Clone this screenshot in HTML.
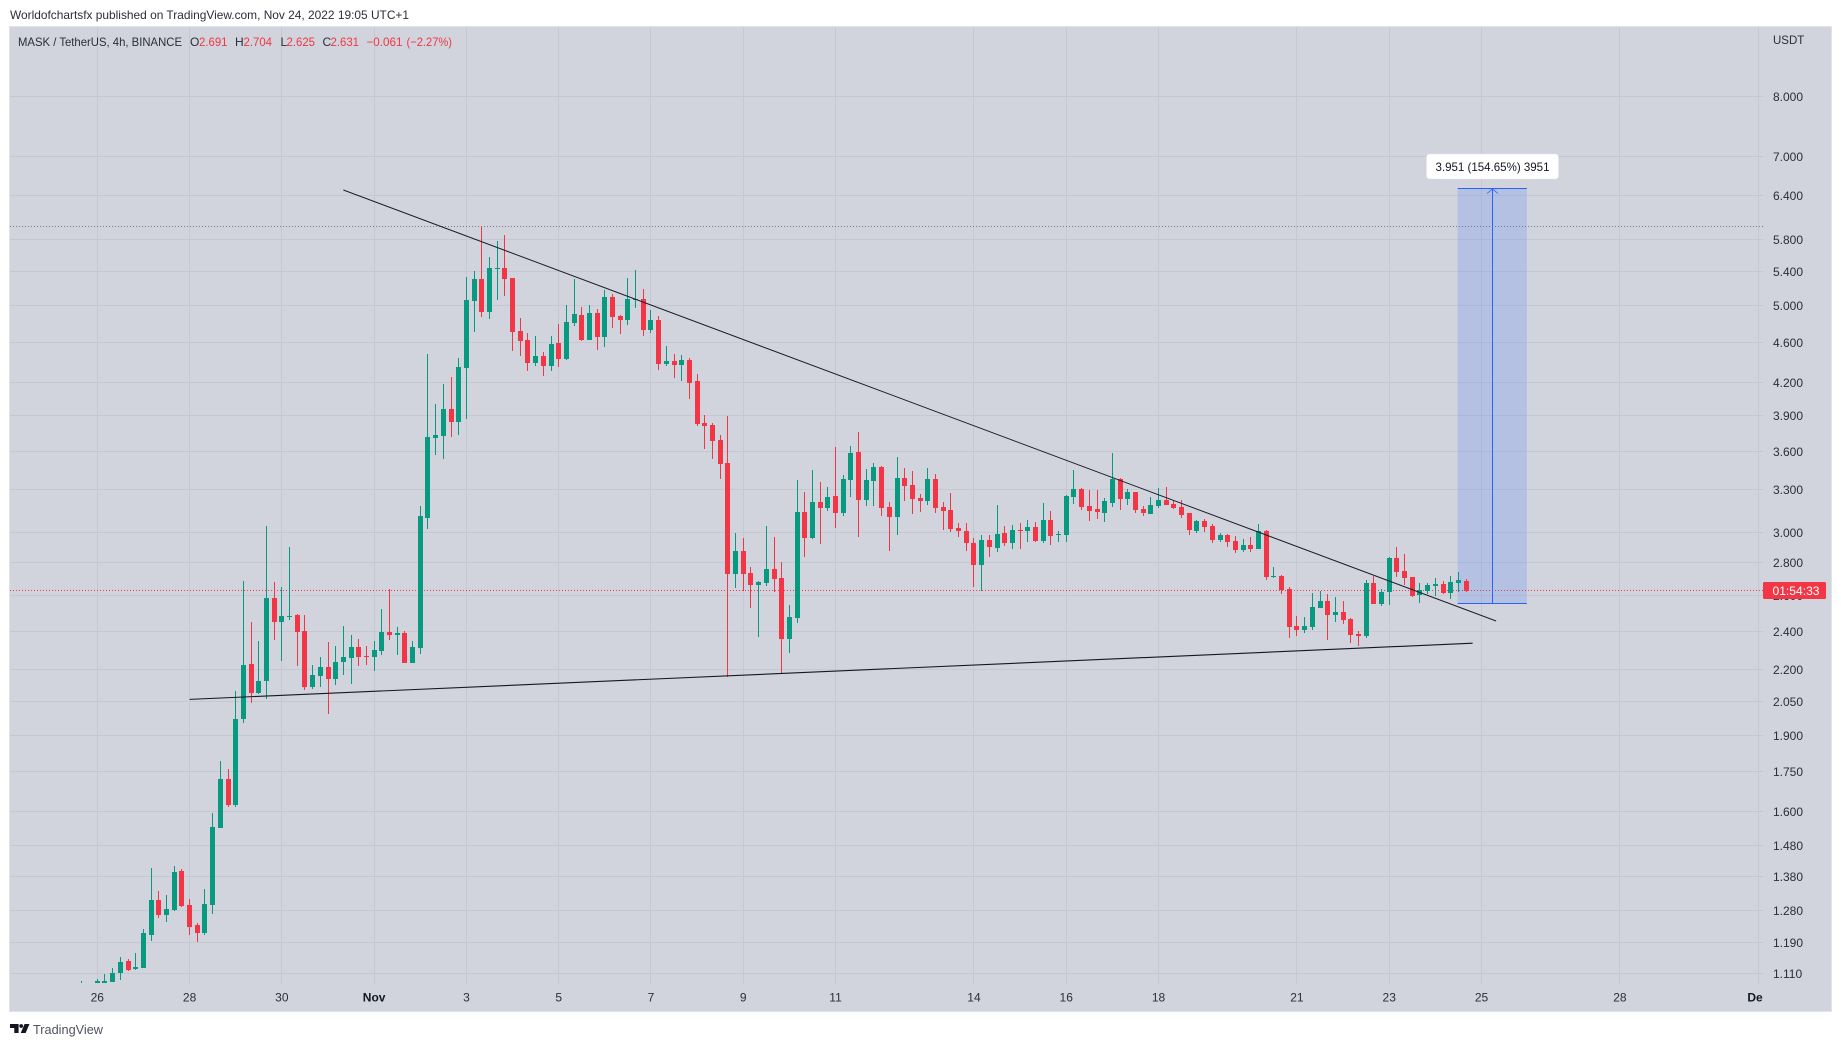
<!DOCTYPE html>
<html lang="en">
<head>
<meta charset="utf-8">
<title>MASK / TetherUS 4h chart</title>
<style>
html,body{margin:0;padding:0;background:#ffffff;}
body{width:1841px;height:1047px;overflow:hidden;position:relative;}
svg{position:absolute;left:0;top:0;display:block;}
text{font-family:"Liberation Sans",sans-serif;}
</style>
</head>
<body>
<svg id="chart" width="1841" height="1047" viewBox="0 0 1841 1047">
  <defs>
    <clipPath id="plot-clip"><rect x="10" y="27" width="1753" height="956"/></clipPath>
    <clipPath id="time-clip"><rect x="10" y="984" width="1753" height="28"/></clipPath>
  </defs>
  <text x="10" y="19" font-size="12" fill="#2a2e39" textLength="399" lengthAdjust="spacingAndGlyphs">Worldofchartsfx published on TradingView.com, Nov 24, 2022 19:05 UTC+1</text>
  <rect x="9.5" y="26.5" width="1822" height="985" fill="#d1d4dc" stroke="#e0e3eb" stroke-width="1"/>
  <g id="grid"></g>
  <g id="lines" clip-path="url(#plot-clip)"></g>
  <g id="range" clip-path="url(#plot-clip)"></g>
  <g id="candles" clip-path="url(#plot-clip)"></g>
  <g id="trends" clip-path="url(#plot-clip)"></g>
  <g id="range-label"></g>
  <g id="price-axis"></g>
  <g id="time-axis" clip-path="url(#time-clip)"></g>
  <g font-size="12">
    <text x="18" y="46" fill="#2a2e39" textLength="164" lengthAdjust="spacingAndGlyphs">MASK / TetherUS, 4h, BINANCE</text>
    <text x="190" y="46" fill="#2a2e39">O</text>
    <text x="199" y="46" fill="#f23645" textLength="28.5" lengthAdjust="spacingAndGlyphs">2.691</text>
    <text x="235" y="46" fill="#2a2e39">H</text>
    <text x="243.5" y="46" fill="#f23645" textLength="28.5" lengthAdjust="spacingAndGlyphs">2.704</text>
    <text x="280.5" y="46" fill="#2a2e39">L</text>
    <text x="286.5" y="46" fill="#f23645" textLength="28.5" lengthAdjust="spacingAndGlyphs">2.625</text>
    <text x="322.5" y="46" fill="#2a2e39">C</text>
    <text x="330.5" y="46" fill="#f23645" textLength="28.5" lengthAdjust="spacingAndGlyphs">2.631</text>
    <text x="366.5" y="46" fill="#f23645" textLength="36" lengthAdjust="spacingAndGlyphs">−0.061</text>
    <text x="406.5" y="46" fill="#f23645" textLength="45.5" lengthAdjust="spacingAndGlyphs">(−2.27%)</text>
  </g>
  <g>
    <path d="M10 1024h8.6v9h-4.3v-5h-4.3z" fill="#131722"/>
    <circle cx="21.2" cy="1026" r="1.9" fill="#131722"/>
    <path d="M24.6 1024h4.9l-3.9 9h-4.9z" fill="#131722"/>
    <text x="33" y="1034" font-size="13" fill="#50535e" textLength="70" lengthAdjust="spacingAndGlyphs">TradingView</text>
  </g>
</svg>
<script>
// ---------- chart data ----------
const firstBar = -2;
const opens = [
1.070,1.070,1.082,1.089,1.092,1.113,1.144,1.123,1.127,1.214,
1.313,1.268,1.283,1.400,1.299,1.240,1.218,1.299,1.544,1.723,
1.624,1.971,2.233,2.092,2.147,2.589,2.454,2.484,2.491,2.405,
2.119,2.173,2.217,2.159,2.243,2.262,2.318,2.272,2.267,2.299,
2.399,2.384,2.394,2.238,2.315,3.102,3.715,3.732,3.966,3.852,
4.350,5.059,5.315,4.935,5.436,5.448,5.327,4.728,4.633,4.399,
4.469,4.370,4.602,4.439,4.814,4.902,4.633,4.924,4.664,5.104,
4.890,4.846,5.070,5.081,4.738,4.846,4.389,4.419,4.380,4.429,
4.224,3.843,3.826,3.698,3.512,2.735,2.881,2.741,2.668,2.680,
2.765,2.710,2.362,2.476,3.145,2.966,3.217,3.173,3.260,3.138,
3.380,3.600,3.231,3.372,3.480,3.181,3.109,3.395,3.342,3.245,
3.224,3.388,3.181,3.159,3.034,3.013,2.932,2.790,2.952,2.900,
3.000,2.932,3.020,3.013,3.041,2.946,3.088,2.986,2.986,3.253,
3.311,3.188,3.166,3.138,3.209,3.388,3.238,3.290,3.166,3.130,
3.188,3.231,3.202,3.181,3.138,3.013,3.081,3.047,2.952,2.986,
2.946,2.887,2.919,2.893,3.013,2.716,2.722,2.644,2.432,2.410,
2.426,2.533,2.573,2.493,2.510,2.471,2.389,2.378,2.680,2.556,
2.626,2.835,2.753,2.716,2.608,2.632,2.662,2.674,2.620,2.680,
2.691];
const highs = [
1.094,1.080,1.098,1.110,1.125,1.155,1.150,1.164,1.228,1.412,
1.338,1.328,1.418,1.406,1.316,1.245,1.346,1.595,1.793,1.762,
2.099,2.692,2.454,2.352,3.046,2.685,2.655,2.909,2.498,2.491,
2.227,2.267,2.346,2.324,2.434,2.382,2.361,2.324,2.352,2.526,
2.644,2.425,2.405,2.352,3.188,4.490,4.011,4.196,4.263,4.449,
5.339,5.412,5.985,5.585,5.790,5.869,5.327,4.868,4.706,4.675,
4.510,4.675,4.803,5.013,5.315,4.990,5.013,4.968,5.185,5.139,
4.902,5.327,5.424,5.197,4.957,4.890,4.571,4.490,4.479,4.449,
4.292,3.913,3.843,3.740,3.904,3.000,2.966,2.778,2.692,3.047,
2.972,2.810,2.550,3.380,3.290,3.457,3.365,3.327,3.640,3.418,
3.649,3.766,3.465,3.512,3.488,3.217,3.559,3.472,3.449,3.275,
3.472,3.426,3.217,3.282,3.068,3.068,2.966,2.986,2.986,3.195,
3.047,3.054,3.068,3.088,3.074,3.209,3.152,3.013,3.267,3.457,
3.319,3.304,3.304,3.245,3.592,3.395,3.311,3.290,3.188,3.253,
3.319,3.327,3.224,3.231,3.138,3.088,3.095,3.061,3.000,2.993,
2.979,2.959,2.972,3.061,3.020,2.778,2.728,2.656,2.488,2.482,
2.620,2.632,2.614,2.596,2.573,2.476,2.405,2.698,2.722,2.644,
2.841,2.906,2.861,2.716,2.680,2.680,2.710,2.692,2.722,2.747,
2.704];
const lows = [
1.060,1.050,1.070,1.089,1.092,1.097,1.119,1.122,1.127,1.197,
1.259,1.248,1.281,1.293,1.214,1.193,1.212,1.273,1.544,1.617,
1.617,1.953,2.045,2.087,2.062,2.355,2.248,2.465,2.222,2.106,
2.111,2.119,1.995,2.129,2.178,2.134,2.222,2.227,2.196,2.277,
2.355,2.277,2.238,2.238,2.285,3.027,3.575,3.543,3.723,3.740,
3.878,4.717,4.879,4.857,5.070,5.116,4.520,4.469,4.320,4.370,
4.272,4.320,4.360,4.429,4.781,4.622,4.633,4.530,4.561,4.760,
4.696,4.792,4.980,4.675,4.706,4.330,4.370,4.253,4.224,4.056,
3.817,3.624,3.543,3.388,2.170,2.650,2.632,2.533,2.373,2.662,
2.626,2.187,2.289,2.448,2.841,2.959,2.926,3.152,3.034,3.116,
3.253,2.972,3.188,3.188,3.116,2.881,2.986,3.224,3.130,3.145,
3.195,3.138,3.020,3.006,2.972,2.881,2.656,2.632,2.841,2.874,
2.913,2.893,2.893,2.939,2.939,2.932,2.919,2.939,2.939,3.202,
3.159,3.081,3.095,3.074,3.181,3.159,3.195,3.138,3.116,3.130,
3.173,3.195,3.166,3.102,2.986,3.000,3.006,2.932,2.939,2.906,
2.868,2.874,2.874,2.893,2.698,2.710,2.614,2.367,2.378,2.394,
2.410,2.533,2.357,2.454,2.443,2.341,2.325,2.367,2.556,2.545,
2.550,2.716,2.668,2.596,2.562,2.614,2.602,2.614,2.585,2.626,
2.625];
const closes = [
1.080,1.075,1.094,1.094,1.114,1.142,1.121,1.129,1.218,1.313,
1.268,1.287,1.397,1.296,1.236,1.218,1.302,1.548,1.723,1.624,
1.975,2.227,2.092,2.147,2.589,2.454,2.490,2.490,2.399,2.119,
2.178,2.217,2.159,2.243,2.267,2.318,2.267,2.267,2.302,2.399,
2.384,2.394,2.238,2.319,3.116,3.723,3.740,3.966,3.852,4.360,
5.070,5.315,4.935,5.448,5.448,5.315,4.717,4.622,4.399,4.469,
4.370,4.592,4.439,4.825,4.913,4.633,4.924,4.664,5.104,4.879,
4.846,5.081,5.081,4.738,4.846,4.389,4.419,4.380,4.429,4.205,
3.834,3.817,3.690,3.504,2.735,2.881,2.735,2.668,2.686,2.765,
2.704,2.362,2.482,3.145,2.966,3.217,3.173,3.253,3.138,3.388,
3.592,3.231,3.380,3.480,3.173,3.109,3.395,3.334,3.238,3.224,
3.388,3.173,3.152,3.027,3.013,2.932,2.790,2.952,2.906,2.993,
2.932,3.020,3.013,3.041,2.946,3.088,2.979,2.993,3.260,3.311,
3.181,3.152,3.145,3.224,3.388,3.238,3.290,3.159,3.138,3.195,
3.231,3.195,3.173,3.123,3.020,3.081,3.041,2.952,2.986,2.939,
2.887,2.919,2.893,3.013,2.716,2.722,2.638,2.426,2.410,2.432,
2.539,2.573,2.493,2.510,2.465,2.383,2.378,2.680,2.556,2.626,
2.835,2.747,2.710,2.602,2.638,2.668,2.674,2.620,2.686,2.698,
2.631];
const priceTicks = [8,7,6.4,5.8,5.4,5,4.6,4.2,3.9,3.6,3.3,3,2.8,2.6,2.4,2.2,2.05,1.9,1.75,1.6,1.48,1.38,1.28,1.19,1.11];
const priceTickLabels = ["8.000","7.000","6.400","5.800","5.400","5.000","4.600","4.200","3.900","3.600","3.300","3.000","2.800","2.600","2.400","2.200","2.050","1.900","1.750","1.600","1.480","1.380","1.280","1.190","1.110"];
const timeTickDays = [0,2,4,6,8,10,12,14,16,19,21,23,26,28,30,33,36];
const timeTickLabels = ["26","28","30","Nov","3","5","7","9","11","14","16","18","21","23","25","28","Dec"];
const lastPrice = 2.631;
const periodHigh = 5.97;
const countdownText = "01:54:33";
const upperTrendBars = [32,181.9];
const upperTrendPrices = [6.494,2.460];
const lowerTrendBars = [12,178.85];
const lowerTrendPrices = [2.062,2.340];
const rangeBars = [176.9,185.9];
const rangePrices = [2.555,6.506];
const rangeLabelText = "3.951 (154.65%) 3951";

// ---------- axis functions ----------
const PLOT_LEFT = 10, PLOT_RIGHT = 1763, PLOT_TOP = 27, PLOT_BOTTOM = 984;
const BAR_ZERO_X = 97.3, BAR_STEP = 7.69, BARS_PER_DAY = 6;
const PRICE_REF = 7, PRICE_REF_Y = 156.7, PRICE_SCALE = 444;
function xOfBar(bar){ return BAR_ZERO_X + BAR_STEP * bar; }
function yOfPrice(price){ return PRICE_REF_Y + PRICE_SCALE * Math.log(PRICE_REF / price); }
function lineY(price){ return Math.floor(yOfPrice(price) - 0.7) + 0.5; }

const NS = "http://www.w3.org/2000/svg";
function make(tag, parentId, attrs, content){
  const el = document.createElementNS(NS, tag);
  for (const k in attrs) el.setAttribute(k, attrs[k]);
  if (content !== undefined) el.textContent = content;
  document.getElementById(parentId).appendChild(el);
  return el;
}

// ---------- grid ----------
priceTicks.forEach(function(p){
  const y = lineY(p);
  const line = make("line","grid",{x1:PLOT_LEFT,x2:PLOT_RIGHT,y1:y,y2:y,stroke:"#c5c8d2","stroke-width":1});
  
  
});
timeTickDays.forEach(function(d){
  const x = Math.floor(xOfBar(d * BARS_PER_DAY)) + 0.5;
  const line = make("line","grid",{x1:x,x2:x,y1:PLOT_TOP,y2:PLOT_BOTTOM,stroke:"#c5c8d2","stroke-width":1});
  
  
});

// ---------- horizontal price lines ----------
const highY = lineY(periodHigh);
const highLine = make("line","lines",{x1:PLOT_LEFT,x2:PLOT_RIGHT,y1:highY,y2:highY,stroke:"#787b86","stroke-width":1,"stroke-dasharray":"1 2"});


const lastY = lineY(lastPrice);
const lastLine = make("line","lines",{x1:PLOT_LEFT,x2:PLOT_RIGHT,y1:lastY,y2:lastY,stroke:"#f23645","stroke-width":1,"stroke-dasharray":"1 2"});



// ---------- price range tool ----------
const rx0 = xOfBar(rangeBars[0]), rx1 = xOfBar(rangeBars[1]);
const ryBottom = lineY(rangePrices[0]), ryTop = lineY(rangePrices[1]);
const rxMid = Math.floor((rx0 + rx1) / 2) + 0.5;
const rangeFill = make("rect","range",{x:rx0,y:ryTop,width:rx1-rx0,height:ryBottom-ryTop,fill:"#2962ff","fill-opacity":0.17});


const rangeTop = make("line","range",{x1:rx0,x2:rx1,y1:ryTop,y2:ryTop,stroke:"#2962ff","stroke-width":1});


const rangeBottom = make("line","range",{x1:rx0,x2:rx1,y1:ryBottom,y2:ryBottom,stroke:"#2962ff","stroke-width":1});


const rangeArrow = make("line","range",{x1:rxMid,x2:rxMid,y1:ryTop,y2:ryBottom,stroke:"#2962ff","stroke-width":1});


const rangeHead = make("path","range",{d:"M"+(rxMid-5.5)+" "+(ryTop+5)+"L"+rxMid+" "+(ryTop+0.5)+"L"+(rxMid+5.5)+" "+(ryTop+5),fill:"none",stroke:"#2962ff","stroke-width":0.8});



// ---------- candles ----------
const GREEN = "#089981", RED = "#f23645";
opens.forEach(function(open, k){
  const bar = firstBar + k;
  const close = closes[k];
  const col = Math.floor(xOfBar(bar));
  const color = close >= open ? GREEN : RED;
  const yHigh = Math.round(yOfPrice(highs[k]));
  const yLow = Math.round(yOfPrice(lows[k]));
  const yTop = Math.round(yOfPrice(Math.max(open, close)));
  const yBot = Math.round(yOfPrice(Math.min(open, close)));
  const wick = make("rect","candles",{x:col,y:yHigh,width:1,height:Math.max(1,yLow-yHigh),fill:color,"shape-rendering":"crispEdges"});
  
  
  const body = make("rect","candles",{x:col-2,y:yTop,width:5,height:Math.max(1,yBot-yTop),fill:color,"shape-rendering":"crispEdges"});
  
  
});

// ---------- trendlines ----------
const upperTrend = make("line","trends",{x1:xOfBar(upperTrendBars[0]),y1:yOfPrice(upperTrendPrices[0]),x2:xOfBar(upperTrendBars[1]),y2:yOfPrice(upperTrendPrices[1]),stroke:"#1c1f2b","stroke-width":1});


const lowerTrend = make("line","trends",{x1:xOfBar(lowerTrendBars[0]),y1:yOfPrice(lowerTrendPrices[0]),x2:xOfBar(lowerTrendBars[1]),y2:yOfPrice(lowerTrendPrices[1]),stroke:"#131722","stroke-width":1.1});



// ---------- range label ----------
const labelBox = make("rect","range-label",{x:rxMid-66,y:ryTop-34.5,width:132,height:25,rx:3,ry:3,fill:"#ffffff",stroke:"#e4e6ec","stroke-width":0.5});


const labelText = make("text","range-label",{x:rxMid,y:ryTop-17.5,"text-anchor":"middle","font-size":12,fill:"#131722",textLength:114,lengthAdjust:"spacingAndGlyphs"},rangeLabelText);



// ---------- price axis ----------
const usdt = make("text","price-axis",{x:1773,y:44,"font-size":11.5,fill:"#2a2e39"},"USDT");


priceTicks.forEach(function(p, k){
  const t = make("text","price-axis",{x:1773,y:lineY(p)+4.5,"font-size":12,fill:"#2a2e39"},priceTickLabels[k]);
  
  
});
const tag = make("rect","price-axis",{x:PLOT_RIGHT,y:lastY-8.5,width:63,height:17,rx:1.5,ry:1.5,fill:"#f23645"});


const tagText = make("text","price-axis",{x:1772.5,y:lastY+4.5,"font-size":12,fill:"#ffffff",textLength:47,lengthAdjust:"spacingAndGlyphs"},countdownText);



// ---------- time axis ----------
timeTickDays.forEach(function(d, k){
  const label = timeTickLabels[k];
  const isMonth = isNaN(Number(label));
  const t = make("text","time-axis",{x:xOfBar(d * BARS_PER_DAY),y:1001.5,"text-anchor":"middle","font-size":12,fill:isMonth ? "#131722" : "#2a2e39","font-weight":isMonth ? 700 : 400},label);
  
  
});
</script>
</body>
</html>
